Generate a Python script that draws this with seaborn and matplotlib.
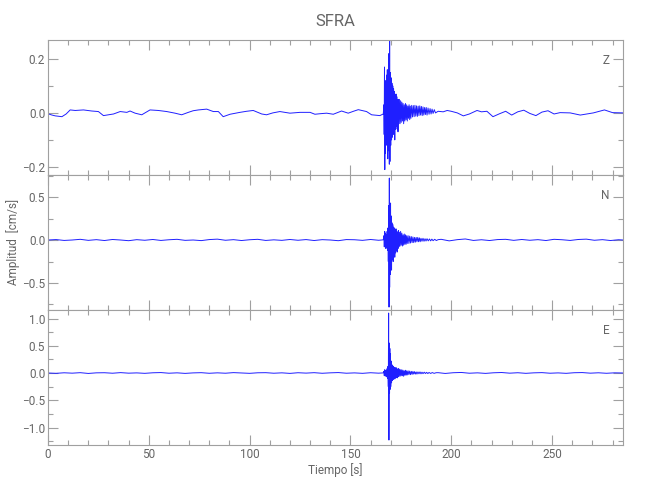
import matplotlib
matplotlib.use("Agg")
import matplotlib.pyplot as plt
import numpy as np
import pandas as pd
import seaborn as sns
from matplotlib.ticker import MultipleLocator, FuncFormatter

# ---------------- data (time [s], amplitude [cm/s]) ----------------
z_pre = [(0, 0.0), (0.3, -0.004), (2, -0.008), (3.6, -0.011), (6.9, -0.014), (9, -0.004), (11, 0.011),
         (13.5, 0.009), (17.6, 0.011), (21.7, 0.007), (25, 0.005), (27.5, -0.010), (30, -0.007),
         (32.5, -0.004), (35.8, 0.005), (39.1, 0.002), (40.7, 0.007), (43.2, -0.001), (46.5, -0.007),
         (50.6, 0.011), (54.7, 0.009), (58.9, 0.005), (63, -0.001), (66.3, -0.007), (69.6, 0.002),
         (72, 0.008), (74.6, 0.011), (78.7, 0.014), (82, 0.005), (84.5, 0.005), (86.9, -0.014),
         (90.3, -0.005), (95.2, 0.002), (98.5, 0.006), (101.8, 0.009), (106, -0.004), (108.4, -0.007),
         (111.5, 0.0), (115, 0.005), (120, -0.001), (125, 0.002), (130, 0.002), (132.4, -0.005),
         (135, -0.003), (138.2, -0.001), (141.5, -0.005), (145.6, 0.007), (148.9, -0.001),
         (151.5, 0.006), (153.9, 0.012), (158, 0.005), (160.5, -0.007), (164.6, -0.010), (166.3, -0.004)]
z_burst = [(166.6, 0.03), (166.75, -0.08), (166.9, 0.17), (167.05, -0.21), (167.2, 0.12), (167.35, -0.15),
           (167.5, 0.10), (167.7, -0.12), (167.9, 0.14), (168.1, -0.10), (168.3, 0.16), (168.5, -0.17),
           (168.7, 0.12), (168.9, -0.14), (169.1, 0.22), (169.3, -0.19), (169.45, 0.28), (169.6, -0.18),
           (169.8, 0.15), (170.0, -0.12), (170.2, 0.13), (170.4, -0.10), (170.6, 0.11), (170.8, -0.09),
           (171.0, 0.10), (171.2, -0.08), (171.4, 0.09), (171.6, -0.07), (171.8, 0.08), (172.0, -0.10),
           (172.2, 0.06), (172.4, -0.06), (172.6, 0.07), (172.8, -0.05), (173.0, 0.06), (173.2, -0.06),
           (173.4, 0.05), (173.6, -0.07), (173.8, 0.05), (174.0, -0.04), (174.3, 0.05), (174.6, -0.04),
           (174.9, 0.045), (175.2, -0.035), (175.5, 0.04), (175.8, -0.03), (176.1, 0.035), (176.4, -0.04),
           (176.7, 0.03), (177.0, -0.03), (177.3, 0.035), (177.6, -0.025), (177.9, 0.03), (178.2, -0.03),
           (178.5, 0.025), (178.8, -0.02), (179.1, 0.03), (179.4, -0.025), (179.7, 0.025), (180.0, -0.02),
           (180.4, 0.028), (180.8, -0.015), (181.2, 0.027), (181.6, -0.014), (182.0, 0.028), (182.4, -0.012),
           (182.8, 0.026), (183.2, -0.013), (183.6, 0.025), (184.0, -0.01), (184.4, 0.026), (184.8, -0.008),
           (185.2, 0.024), (185.6, -0.01), (186.0, 0.022), (186.4, -0.008), (186.8, 0.02), (187.2, -0.006),
           (187.6, 0.02), (188.0, -0.008), (188.5, 0.018), (189.0, -0.005), (189.5, 0.016), (190.0, -0.004),
           (190.5, 0.014), (191.0, -0.002), (191.6, 0.012), (192.2, 0.0)]
z_post = [(193.5, 0.006), (196, 0.004), (198, 0.009), (200, 0.006), (203, 0.0), (206, -0.011), (209, -0.004),
          (212.8, 0.009), (215, 0.004), (217.7, 0.006), (220.7, -0.014), (224, -0.003), (227, 0.006),
          (230, -0.008), (233, 0.004), (236, 0.010), (239, -0.002), (242, -0.010), (245, 0.003), (248, 0.008),
          (251, -0.004), (254, 0.001), (259, 0.0), (264, -0.008), (270.5, 0.0), (276, 0.011), (280, 0.001),
          (285.2, 0.0)]

n_pre = [(0, 0.0), (4, 0.005), (8, -0.005), (12, 0.0), (16, 0.008), (20, -0.004), (24, 0.004), (28, -0.006),
         (32, 0.006), (36, 0.0), (40, -0.008), (44, 0.004), (48, -0.003), (52, 0.006), (56, -0.005),
         (60, 0.003), (64, 0.008), (68, -0.004), (72, 0.0), (76, -0.007), (80, 0.005), (84, 0.010),
         (88, -0.003), (92, 0.004), (96, -0.006), (100, 0.003), (104, 0.008), (108, -0.005), (112, 0.002),
         (116, -0.004), (120, 0.006), (124, -0.003), (128, 0.005), (132, -0.006), (136, 0.004), (140, 0.0),
         (144, -0.008), (148, 0.005), (152, 0.003), (156, -0.004), (160, 0.006), (164, -0.003), (166.3, 0.002)]
n_burst = [(166.6, 0.05), (166.8, -0.08), (167.0, 0.10), (167.2, -0.06), (167.4, 0.08), (167.6, -0.10),
           (167.8, 0.06), (168.0, -0.08), (168.2, 0.10), (168.4, -0.12), (168.6, 0.14), (168.8, -0.25),
           (169.0, 0.40), (169.15, -0.78), (169.3, 0.72), (169.45, -0.55), (169.6, 0.35), (169.75, -0.40),
           (169.9, 0.43), (170.05, -0.30), (170.2, 0.28), (170.4, -0.35), (170.6, 0.20), (170.8, -0.22),
           (171.0, 0.18), (171.2, -0.25), (171.4, 0.15), (171.6, -0.18), (171.8, 0.14), (172.0, -0.20),
           (172.2, 0.12), (172.4, -0.15), (172.6, 0.13), (172.8, -0.12), (173.0, 0.10), (173.2, -0.14),
           (173.4, 0.09), (173.6, -0.10), (173.8, 0.11), (174.0, -0.08), (174.3, 0.09), (174.6, -0.07),
           (174.9, 0.10), (175.2, -0.06), (175.5, 0.08), (175.8, -0.07), (176.1, 0.06), (176.4, -0.06),
           (176.7, 0.07), (177.0, -0.05), (177.3, 0.06), (177.6, -0.05), (177.9, 0.05), (178.2, -0.04),
           (178.6, 0.05), (179.0, -0.04), (179.4, 0.045), (179.8, -0.035), (180.2, 0.04), (180.6, -0.03),
           (181.0, 0.035), (181.4, -0.03), (181.8, 0.03), (182.2, -0.025), (182.6, 0.03), (183.0, -0.02),
           (183.4, 0.03), (183.8, -0.02), (184.2, 0.025), (184.6, -0.02), (185.0, 0.02), (185.5, -0.015),
           (186.0, 0.02), (186.5, -0.015), (187.0, 0.015), (187.5, -0.012), (188.0, 0.015), (188.6, -0.01),
           (189.2, 0.012), (189.8, -0.01), (190.4, 0.01), (191.0, -0.008), (191.8, 0.008), (192.6, -0.006)]
n_post = [(193.5, 0.004), (195, 0.008), (199, -0.01), (203, 0.004), (207, 0.012), (211, -0.005), (215, 0.003),
          (219, -0.006), (223, 0.005), (227, 0.008), (231, -0.004), (235, 0.006), (239, -0.003), (243, 0.004),
          (247, -0.006), (251, 0.008), (255, 0.003), (259, -0.005), (263, 0.006), (267, 0.010), (271, -0.003),
          (275, 0.004), (279, -0.006), (283, 0.003), (285.2, 0.0)]

e_pre = [(0, 0.0), (4, -0.006), (8, 0.004), (12, -0.003), (16, 0.006), (20, -0.008), (24, 0.003), (28, 0.005),
         (32, -0.004), (36, 0.007), (40, -0.003), (44, 0.002), (48, -0.006), (52, 0.004), (56, 0.008),
         (60, -0.004), (64, 0.003), (68, -0.007), (72, 0.002), (76, 0.006), (80, -0.005), (84, 0.003),
         (88, -0.004), (92, 0.007), (96, 0.0), (100, -0.006), (104, 0.004), (108, 0.006), (112, -0.004),
         (116, 0.003), (120, -0.007), (124, 0.005), (128, -0.002), (132, 0.006), (136, -0.005), (140, 0.003),
         (144, 0.008), (148, -0.004), (152, 0.002), (156, -0.006), (160, 0.005), (164, -0.003), (166.3, 0.002)]
e_burst = [(166.6, 0.03), (166.8, -0.05), (167.0, 0.06), (167.2, -0.04), (167.4, 0.05), (167.6, -0.06),
           (167.8, 0.05), (168.0, -0.07), (168.2, 0.08), (168.4, -0.10), (168.6, 0.12), (168.8, -0.25),
           (168.95, 1.10), (169.1, -1.23), (169.25, 0.55), (169.4, -0.37), (169.55, 0.45), (169.7, -0.30),
           (169.85, 0.35), (170.0, -0.25), (170.2, 0.22), (170.4, -0.18), (170.6, 0.15), (170.8, -0.14),
           (171.0, 0.13), (171.2, -0.12), (171.4, 0.12), (171.6, -0.10), (171.8, 0.10), (172.0, -0.11),
           (172.2, 0.09), (172.4, -0.09), (172.6, 0.10), (172.8, -0.08), (173.0, 0.08), (173.2, -0.09),
           (173.4, 0.07), (173.6, -0.07), (173.8, 0.08), (174.0, -0.06), (174.3, 0.07), (174.6, -0.06),
           (174.9, 0.06), (175.2, -0.05), (175.5, 0.06), (175.8, -0.05), (176.1, 0.05), (176.4, -0.06),
           (176.7, 0.04), (177.0, -0.04), (177.3, 0.05), (177.6, -0.04), (177.9, 0.04), (178.2, -0.035),
           (178.6, 0.04), (179.0, -0.03), (179.4, 0.035), (179.8, -0.03), (180.2, 0.03), (180.6, -0.025),
           (181.0, 0.03), (181.4, -0.02), (181.8, 0.025), (182.2, -0.02), (182.6, 0.02), (183.0, -0.02),
           (183.5, 0.02), (184.0, -0.015), (184.5, 0.02), (185.0, -0.015), (185.5, 0.015), (186.0, -0.012),
           (186.6, 0.015), (187.2, -0.01), (187.8, 0.012), (188.4, -0.01), (189.0, 0.01), (189.8, -0.008),
           (190.6, 0.008), (191.5, -0.006), (192.5, 0.005)]
e_post = [(193.5, 0.006), (197, -0.008), (201, 0.005), (205, 0.01), (209, -0.004), (213, 0.003), (217, -0.007),
          (221, 0.004), (225, 0.009), (229, -0.003), (233, 0.005), (237, -0.006), (241, 0.003), (245, 0.007),
          (249, -0.004), (253, 0.002), (257, -0.006), (261, 0.005), (265, 0.008), (269, -0.003), (273, 0.004),
          (277, -0.005), (281, 0.003), (285.2, 0.0)]

components = ["Z", "N", "E"]
y_limits = [(-0.230, 0.270), (-0.814, 0.756), (-1.321, 1.156)]
y_major = [0.2, 0.5, 0.5]
y_minor = [0.1, 0.25, 0.25]
x_limit = (0, 285.2)
title = "SFRA"
x_label = "Tiempo [s]"
y_label = "Amplitud  [cm/s]"

traces = {"Z": z_pre + z_burst + z_post,
          "N": n_pre + n_burst + n_post,
          "E": e_pre + e_burst + e_post}

# ---------------- style ----------------
sns.set_theme(style="ticks")
plt.rcParams["font.family"] = ["Roboto", "DejaVu Sans"]
plt.rcParams["font.weight"] = "normal"
AX_COL = "#a0a0a0"
TXT_COL = "#666666"
LINE_COL = "#1f1fff"

fig = plt.figure(figsize=(6.5, 5), dpi=100)
W, H = 650, 500
left, right = 48, 623
tops = [40, 175, 310]
ph = 135


def fmt(v, pos):
    s = f"{v:.1f}"
    if s == "-0.0":
        s = "0.0"
    return s.replace("-", "\u2212")


for i, comp in enumerate(components):
    ax = fig.add_axes([left / W, 1 - (tops[i] + ph) / H, (right - left) / W, ph / H])
    df = pd.DataFrame(traces[comp], columns=["t", "v"])
    sns.lineplot(data=df, x="t", y="v", ax=ax, color=LINE_COL, lw=0.7,
                 estimator=None, sort=False, legend=False)
    ax.set_xlim(*x_limit)
    ax.set_ylim(*y_limits[i])
    ax.xaxis.set_major_locator(MultipleLocator(50))
    ax.xaxis.set_minor_locator(MultipleLocator(10))
    ax.yaxis.set_major_locator(MultipleLocator(y_major[i]))
    ax.yaxis.set_minor_locator(MultipleLocator(y_minor[i]))
    ax.yaxis.set_major_formatter(FuncFormatter(fmt))
    ax.tick_params(which="both", direction="in", top=True, right=True, color=AX_COL,
                   labelcolor=TXT_COL, labelsize=8.5, width=0.8, pad=2)
    ax.tick_params(which="major", length=7)
    ax.tick_params(which="minor", length=3.5)
    for sp in ax.spines.values():
        sp.set_color(AX_COL)
        sp.set_linewidth(0.8)
    ax.set_xlabel("")
    ax.set_ylabel("")
    if i < 2:
        ax.tick_params(labelbottom=False)
    ax.text(0.976, 0.845, comp, transform=ax.transAxes, ha="right", va="center",
            color=TXT_COL, fontsize=8.5)

fig.text((left + right) / 2 / W, 1 - 22 / H, title, ha="center", va="center",
         color=TXT_COL, fontsize=12)
fig.text((left + right) / 2 / W, 1 - 470 / H, x_label, ha="center", va="center",
         color=TXT_COL, fontsize=8.5)
fig.text(13 / W, 1 - 242 / H, y_label, ha="center", va="center", rotation=90,
         color=TXT_COL, fontsize=8.5)

fig.savefig("out.png", dpi=100, facecolor="white")
